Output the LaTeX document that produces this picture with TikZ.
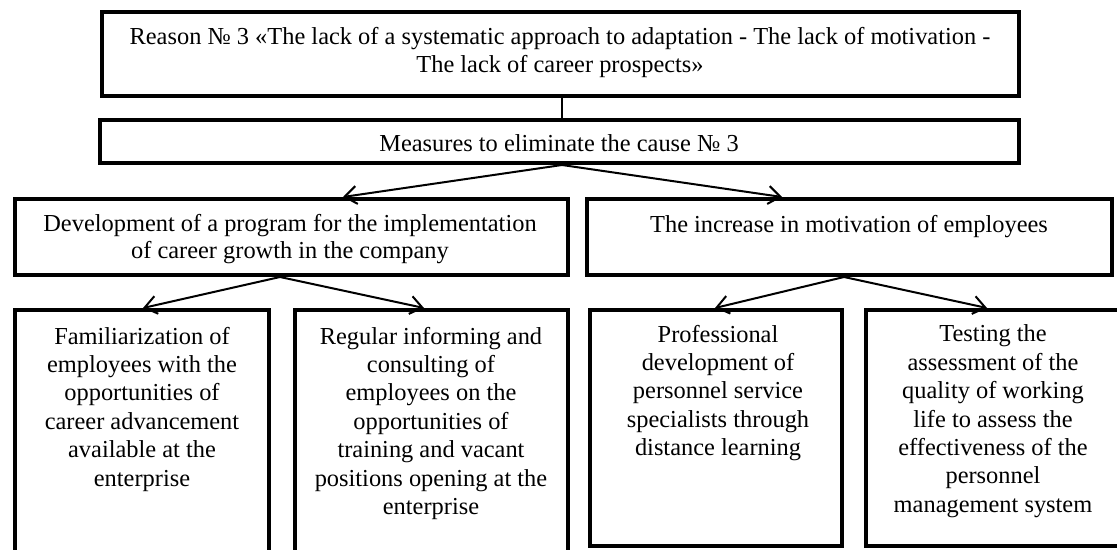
\documentclass[tikz,border=0pt]{standalone}
\usepackage{fontspec}
\setmainfont{Liberation Serif}
\usetikzlibrary{arrows.meta,calc}
\begin{document}
\begin{tikzpicture}[x=0.5pt,y=-0.5pt,
  box/.style={draw=black, line width=2.2pt, rectangle, inner sep=0pt},
  txt/.style={inner sep=0pt, anchor=north, align=center, font=\fontsize{12.2pt}{14pt}\selectfont},
  txtb/.style={txt, font=\fontsize{12.2pt}{14.2pt}\selectfont},
  link/.style={line width=0.65pt},
  arr/.style={line width=1pt, -{Straight Barb[length=6pt,width=9pt]}}]
\useasboundingbox (0,0) rectangle (1117,550);
\fill[white] (0,0) rectangle (1117,550);
% boxes
\node[box, minimum width=458.3pt, minimum height=41.8pt] (top) at (560.5,54) {};
\node[box, minimum width=459.3pt, minimum height=21.3pt] (meas) at (559.5,141.5) {};
\node[box, minimum width=276.3pt, minimum height=37.8pt] (left2) at (291.5,237) {};
\node[box, minimum width=262.3pt, minimum height=37.8pt] (right2) at (849.5,237) {};
\node[box, minimum width=126.8pt, minimum height=123.8pt] (box1) at (142,434) {};
\node[box, minimum width=136.3pt, minimum height=123.8pt] (box2) at (431.5,434) {};
\node[box, minimum width=125.8pt, minimum height=117.8pt] (box3) at (716,428) {};
\node[box, minimum width=127.8pt, minimum height=117.8pt] (box4) at (994,428) {};
% texts
\node[txt] (toptxt) at (560,26.5) {Reason № 3 «The lack of a systematic approach to adaptation - The lack of motivation -\\ The lack of career prospects»};
\node[txt] (meastxt) at (559,134.5) {Measures to eliminate the cause № 3};
\node[txt, font=\fontsize{12.2pt}{13.5pt}\selectfont] (left2txt) at (290,213.5) {Development of a program for the implementation\\ of career growth in the company};
\node[txt] (right2txt) at (849,214.5) {The increase in motivation of employees};
\node[txtb] (box1txt) at (142,326.5) {Familiarization of\\ employees with the\\ opportunities of\\ career advancement\\ available at the\\ enterprise};
\node[txtb] (box2txt) at (431,326.5) {Regular informing and\\ consulting of\\ employees on the\\ opportunities of\\ training and vacant\\ positions opening at the\\ enterprise};
\node[txtb] (box3txt) at (718,324.5) {Professional\\ development of\\ personnel service\\ specialists through\\ distance learning};
\node[txtb] (box4txt) at (993,324.5) {Testing the\\ assessment of the\\ quality of working\\ life to assess the\\ effectiveness of the\\ personnel\\ management system};
% connectors
\draw[link] ($(top.south)+(1.5,0)$) -- ($(meas.north)+(2.5,0)$);
\draw[arr] ($(meas.south)+(2.5,0)$) -- ($(left2.north)+(51.5,0)$);
\draw[arr] ($(meas.south)+(2.5,0)$) -- ($(right2.north)+(-67.5,0)$);
\draw[arr] ($(left2.south)+(-11.5,0)$) -- ($(box1.north)+(1,0)$);
\draw[arr] ($(left2.south)+(-11.5,0)$) -- ($(box2.north)+(-7.5,0)$);
\draw[arr] ($(right2.south)+(-5.5,0)$) -- ($(box3.north)+(-1,0)$);
\draw[arr] ($(right2.south)+(-5.5,0)$) -- ($(box4.north)+(-7,0)$);
\end{tikzpicture}
\end{document}
